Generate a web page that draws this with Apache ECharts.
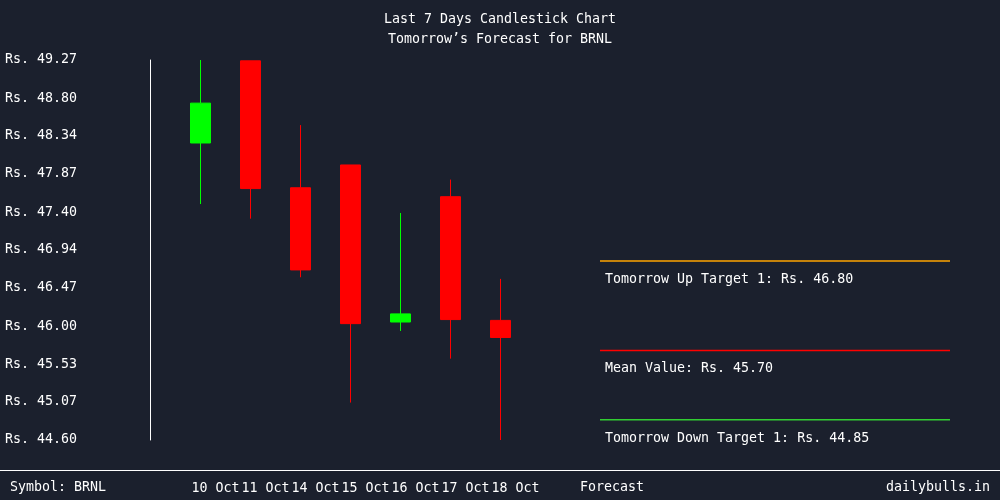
<!DOCTYPE html>
<html><head><meta charset="utf-8">
<script src="https://cdn.jsdelivr.net/npm/echarts@6/dist/echarts.min.js"></script>
<style>html,body{margin:0;padding:0;background:#1b202d}#c{width:1000px;height:500px}</style>
</head><body><div id="c"></div>
<script>
const categories = ['10 Oct','11 Oct','14 Oct','15 Oct','16 Oct','17 Oct','18 Oct'];
// [open, close, low, high]
const ohlc = [
  [48.25, 48.74, 47.50, 49.27],
  [49.26, 47.69, 47.32, 49.26],
  [47.70, 46.69, 46.60, 48.47],
  [47.98, 46.03, 45.06, 47.98],
  [46.05, 46.15, 45.94, 47.39],
  [47.59, 46.08, 45.60, 47.80],
  [46.07, 45.86, 44.60, 46.58]
];
const tickValues = [44.60, 45.07, 45.53, 46.00, 46.47, 46.94, 47.40, 47.87, 48.34, 48.80, 49.27];
const yMin = 44.60, yMax = 49.27;
const upTarget = 46.80, meanValue = 45.70, downTarget = 44.85;
const symbol = 'BRNL';

const FONT = 'DejaVu Sans Mono';
const FS = 13.3;
const chart = echarts.init(document.getElementById('c'));
function targetSeries(val, label, color) {
  return {
    type: 'line', xAxisIndex: 1, yAxisIndex: 1,
    data: [[0, val], [1, val]],
    symbol: 'circle', symbolSize: 0, showSymbol: true,
    lineStyle: { color: color, width: 1.5 },
    itemStyle: { color: color },
    silent: true, animation: false,
    label: {
      show: true,
      formatter: function (p) { return p.dataIndex === 0 ? label : ''; },
      position: 'right', distance: 5, offset: [0, 18.5],
      color: '#ffffff', fontFamily: FONT, fontSize: FS
    }
  };
}
chart.setOption({
  backgroundColor: '#1b202d',
  animation: false,
  title: {
    text: 'Last 7 Days Candlestick Chart',
    subtext: 'Tomorrow’s Forecast for ' + symbol,
    left: 'center', top: 7, itemGap: 4,
    textStyle: { color: '#ffffff', fontFamily: FONT, fontSize: FS, fontWeight: 'normal', lineHeight: 16 },
    subtextStyle: { color: '#ffffff', fontFamily: FONT, fontSize: FS, lineHeight: 16 }
  },
  grid: [
    { left: 175.5, width: 350, top: 60, height: 380 },
    { left: 600, width: 350, top: 60, height: 380 }
  ],
  xAxis: [
    {
      type: 'category', data: categories, gridIndex: 0, boundaryGap: true,
      axisLine: { show: false }, axisTick: { show: false }, splitLine: { show: false },
      axisLabel: { color: '#ffffff', fontFamily: FONT, fontSize: FS, margin: 42, align: 'center', padding: [0, 0, 0, 30], interval: 0 }
    },
    { type: 'value', gridIndex: 1, min: 0, max: 1, show: false }
  ],
  yAxis: [
    {
      type: 'value', gridIndex: 0, min: yMin, max: yMax, offset: 25.5,
      axisLine: { show: true, lineStyle: { color: '#ffffff', width: 1 } },
      axisTick: { show: false }, splitLine: { show: false },
      axisLabel: {
        customValues: tickValues,
        formatter: function (v) { return 'Rs. ' + v.toFixed(2); },
        color: '#ffffff', fontFamily: FONT, fontSize: FS, align: 'left', margin: 145,
        padding: [0, 0, 4, 0]
      }
    },
    { type: 'value', gridIndex: 1, min: yMin, max: yMax, show: false }
  ],
  series: [
    {
      type: 'candlestick', xAxisIndex: 0, yAxisIndex: 0,
      data: ohlc, barWidth: 21,
      itemStyle: { color: '#00ff00', color0: '#ff0000', borderColor: '#00ff00', borderColor0: '#ff0000', borderWidth: 1 }
    },
    targetSeries(upTarget, 'Tomorrow Up Target 1: Rs. ' + upTarget.toFixed(2), '#ffa500'),
    targetSeries(meanValue, 'Mean Value: Rs. ' + meanValue.toFixed(2), '#ff0000'),
    targetSeries(downTarget, 'Tomorrow Down Target 1: Rs. ' + downTarget.toFixed(2), '#32cd32')
  ],
  graphic: [
    { type: 'line', shape: { x1: 0, y1: 470.5, x2: 1000, y2: 470.5 }, style: { stroke: '#ffffff', lineWidth: 1 } },
    { type: 'text', left: 10, top: 481, style: { text: 'Symbol: ' + symbol, fill: '#ffffff', font: FS + 'px "DejaVu Sans Mono"' } },
    { type: 'text', left: 580, top: 481, style: { text: 'Forecast', fill: '#ffffff', font: FS + 'px "DejaVu Sans Mono"' } },
    { type: 'text', right: 10, top: 481, style: { text: 'dailybulls.in', fill: '#ffffff', font: FS + 'px "DejaVu Sans Mono"' } }
  ]
});
</script>
</body></html>
